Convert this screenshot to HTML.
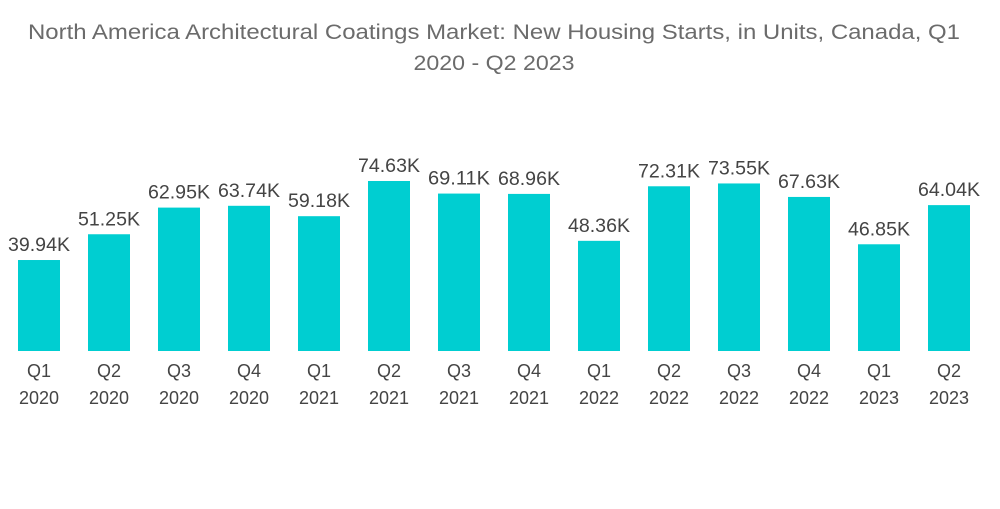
<!DOCTYPE html>
<html><head><meta charset="utf-8"><style>
body{margin:0;background:#fff;width:1000px;height:504px;overflow:hidden;font-family:"Liberation Sans",sans-serif}
</style></head><body>
<svg width="1000" height="504">
<text x="494" y="39" text-anchor="middle" font-size="21" fill="#6b6b6b" textLength="932" lengthAdjust="spacingAndGlyphs">North America Architectural Coatings Market: New Housing Starts, in Units, Canada, Q1</text>
<text x="494" y="70" text-anchor="middle" font-size="21" fill="#6b6b6b" textLength="161" lengthAdjust="spacingAndGlyphs">2020 - Q2 2023</text>
<g id="bars"></g>
</svg>
<script>
const quarters=["Q1","Q2","Q3","Q4","Q1","Q2","Q3","Q4","Q1","Q2","Q3","Q4","Q1","Q2"];
const years=["2020","2020","2020","2020","2021","2021","2021","2021","2022","2022","2022","2022","2023","2023"];
const values=[39.94,51.25,62.95,63.74,59.18,74.63,69.11,68.96,48.36,72.31,73.55,67.63,46.85,64.04];
const labels=["39.94K","51.25K","62.95K","63.74K","59.18K","74.63K","69.11K","68.96K","48.36K","72.31K","73.55K","67.63K","46.85K","64.04K"];
const ns="http://www.w3.org/2000/svg";
const g=document.getElementById("bars");
const base=351, k=2.278, x0=39, step=70, bw=42;
const xs=i=>x0+i*step, ys=v=>base-v*k;
function mk(tag,attrs){const e=document.createElementNS(ns,tag);for(const a in attrs)e.setAttribute(a,attrs[a]);g.appendChild(e);return e;}
values.forEach((v,i)=>{
  const r=mk("rect",{x:xs(i)-bw/2,y:ys(v),width:bw,height:base-ys(v),fill:"#00CED1"});
  
  
  const t=mk("text",{x:xs(i),y:ys(v)-9,"text-anchor":"middle","font-size":"19",fill:"#444",textLength:"62",lengthAdjust:"spacingAndGlyphs"});
  t.textContent=labels[i];
  
  
  const q=mk("text",{x:xs(i),y:377,"text-anchor":"middle","font-size":"18",fill:"#444"});
  q.textContent=quarters[i];
  
  
  const y=mk("text",{x:xs(i),y:404,"text-anchor":"middle","font-size":"18",fill:"#444"});
  y.textContent=years[i];
  
  
});
</script>
</body></html>
